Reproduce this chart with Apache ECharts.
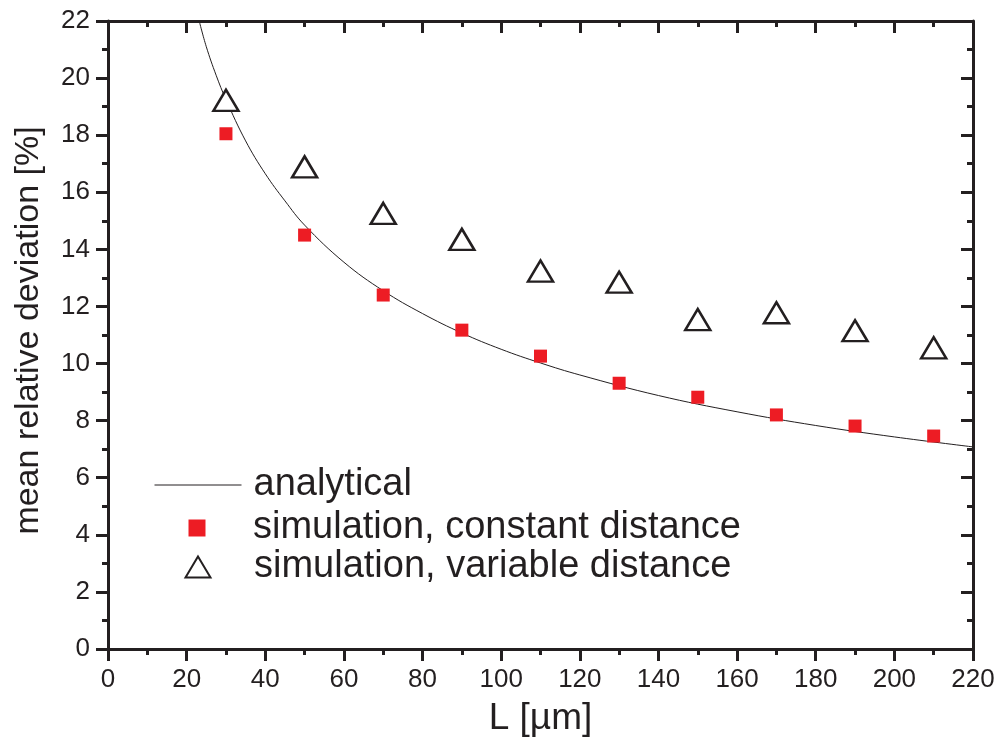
<!DOCTYPE html>
<html>
<head>
<meta charset="utf-8">
<script src="https://cdn.jsdelivr.net/npm/echarts@6/dist/echarts.min.js"></script>
<style>
  html, body { margin: 0; padding: 0; background: #ffffff; }
  #chart { width: 1001px; height: 742px; }
</style>
</head>
<body>
<div id="chart"></div>
<script>
// Channel length L [µm] of the simulated configurations
const lengths = [30, 50, 70, 90, 110, 130, 150, 170, 190, 210];
// Mean relative deviation [%], simulation with constant distance
const constantDistance = [18.05, 14.5, 12.4, 11.17, 10.26, 9.31, 8.82, 8.2, 7.81, 7.46];
// Mean relative deviation [%], simulation with variable distance
const variableDistance = [19.22, 16.89, 15.26, 14.35, 13.24, 12.85, 11.54, 11.78, 11.15, 10.55];
// Analytical curve, sampled along L
const curveL = [23.2, 25, 27.5, 30, 35, 40, 45, 50, 60, 70, 80, 90, 100, 110, 120, 140, 160, 180, 200, 220];
const curveV = [22.0, 21.1, 20.1, 19.25, 17.8, 16.65, 15.7, 14.85, 13.55, 12.55, 11.75, 11.07, 10.5, 10.02, 9.6, 8.88, 8.31, 7.83, 7.43, 7.08];
// Tick labels
const xTicks = ['0', '20', '40', '60', '80', '100', '120', '140', '160', '180', '200', '220'];
const yTicks = ['0', '2', '4', '6', '8', '10', '12', '14', '16', '18', '20', '22'];

const names = ['analytical', 'simulation, constant distance', 'simulation, variable distance'];

const INK = '#231f20';
const RED = '#ed1c24';
const FONT = "'Liberation Sans', Arial, Helvetica, sans-serif";

const pair = (xs, ys) => xs.map((x, i) => [x, ys[i]]);

function axisBase(isX, mirror) {
  const ticks = isX ? xTicks : yTicks;
  return {
    type: 'value',
    min: 0,
    max: isX ? 220 : 22,
    interval: isX ? 20 : 2,
    axisLine: { show: true, onZero: false, lineStyle: { color: INK, width: 3 } },
    axisTick: { show: true, inside: mirror, length: 12, lineStyle: { color: INK, width: 3 } },
    minorTick: { show: true, splitNumber: 2, length: 6, lineStyle: { color: INK, width: 3 } },
    splitLine: { show: false },
    minorSplitLine: { show: false },
    axisLabel: {
      show: !mirror,
      color: INK,
      fontFamily: FONT,
      fontSize: 26,
      margin: 18,
      formatter: v => ticks[Math.round(v / (isX ? 20 : 2))] ?? ''
    }
  };
}

const chart = echarts.init(document.getElementById('chart'), null, { renderer: 'canvas' });

const legendText = (pad) => ({
  color: INK, fontFamily: FONT, fontSize: 38, lineHeight: 40, padding: [0, 0, 0, pad]
});

chart.setOption({
  backgroundColor: '#ffffff',
  animation: false,
  grid: { left: 108, right: 28, top: 21, bottom: 93, containLabel: false, outerBoundsMode: 'none' },
  xAxis: [
    Object.assign(axisBase(true, false), {
      position: 'bottom',
      name: 'L [µm]',
      nameLocation: 'middle',
      nameGap: 51,
      nameTextStyle: { color: INK, fontFamily: FONT, fontSize: 37 }
    }),
    Object.assign(axisBase(true, true), { position: 'top' })
  ],
  yAxis: [
    Object.assign(axisBase(false, false), {
      position: 'left',
      name: 'mean relative deviation [%]',
      nameLocation: 'middle',
      nameGap: 62,
      nameRotate: 90,
      nameTextStyle: { color: INK, fontFamily: FONT, fontSize: 34, padding: [0, 0, 0, 9] }
    }),
    Object.assign(axisBase(false, true), { position: 'right' })
  ],
  legend: [
    {
      // line-only key: the marker drawn by the line series icon is hidden
      data: [names[0]], left: 154, top: 465, padding: 0,
      itemWidth: 87, itemHeight: 40,
      lineStyle: { width: 1, color: INK },
      itemStyle: { opacity: 0 },
      textStyle: legendText(7)
    },
    {
      data: [names[1]], left: 188.5, top: 508, padding: 0,
      itemWidth: 17, itemHeight: 17, symbolKeepAspect: false,
      textStyle: legendText(42.5)
    },
    {
      data: [names[2]], left: 184.5, top: 547, padding: 0,
      itemWidth: 25, itemHeight: 21, symbolKeepAspect: false,
      textStyle: legendText(38.5)
    }
  ],
  series: [
    {
      name: names[0],
      type: 'line',
      data: pair(curveL, curveV),
      smooth: 0.4,
      symbol: 'none',
      clip: true,
      lineStyle: { color: INK, width: 1 },
      itemStyle: { color: INK },
      z: 2
    },
    {
      name: names[1],
      type: 'scatter',
      data: pair(lengths, constantDistance),
      symbol: 'rect',
      symbolSize: 13,
      itemStyle: { color: RED, opacity: 1 },
      z: 3
    },
    {
      name: names[2],
      type: 'scatter',
      data: pair(lengths, variableDistance),
      symbol: 'triangle',
      symbolSize: [25, 21],
      itemStyle: { color: '#ffffff', borderColor: INK, borderWidth: 2.5, opacity: 1 },
      z: 4
    }
  ]
});
</script>
</body>
</html>
